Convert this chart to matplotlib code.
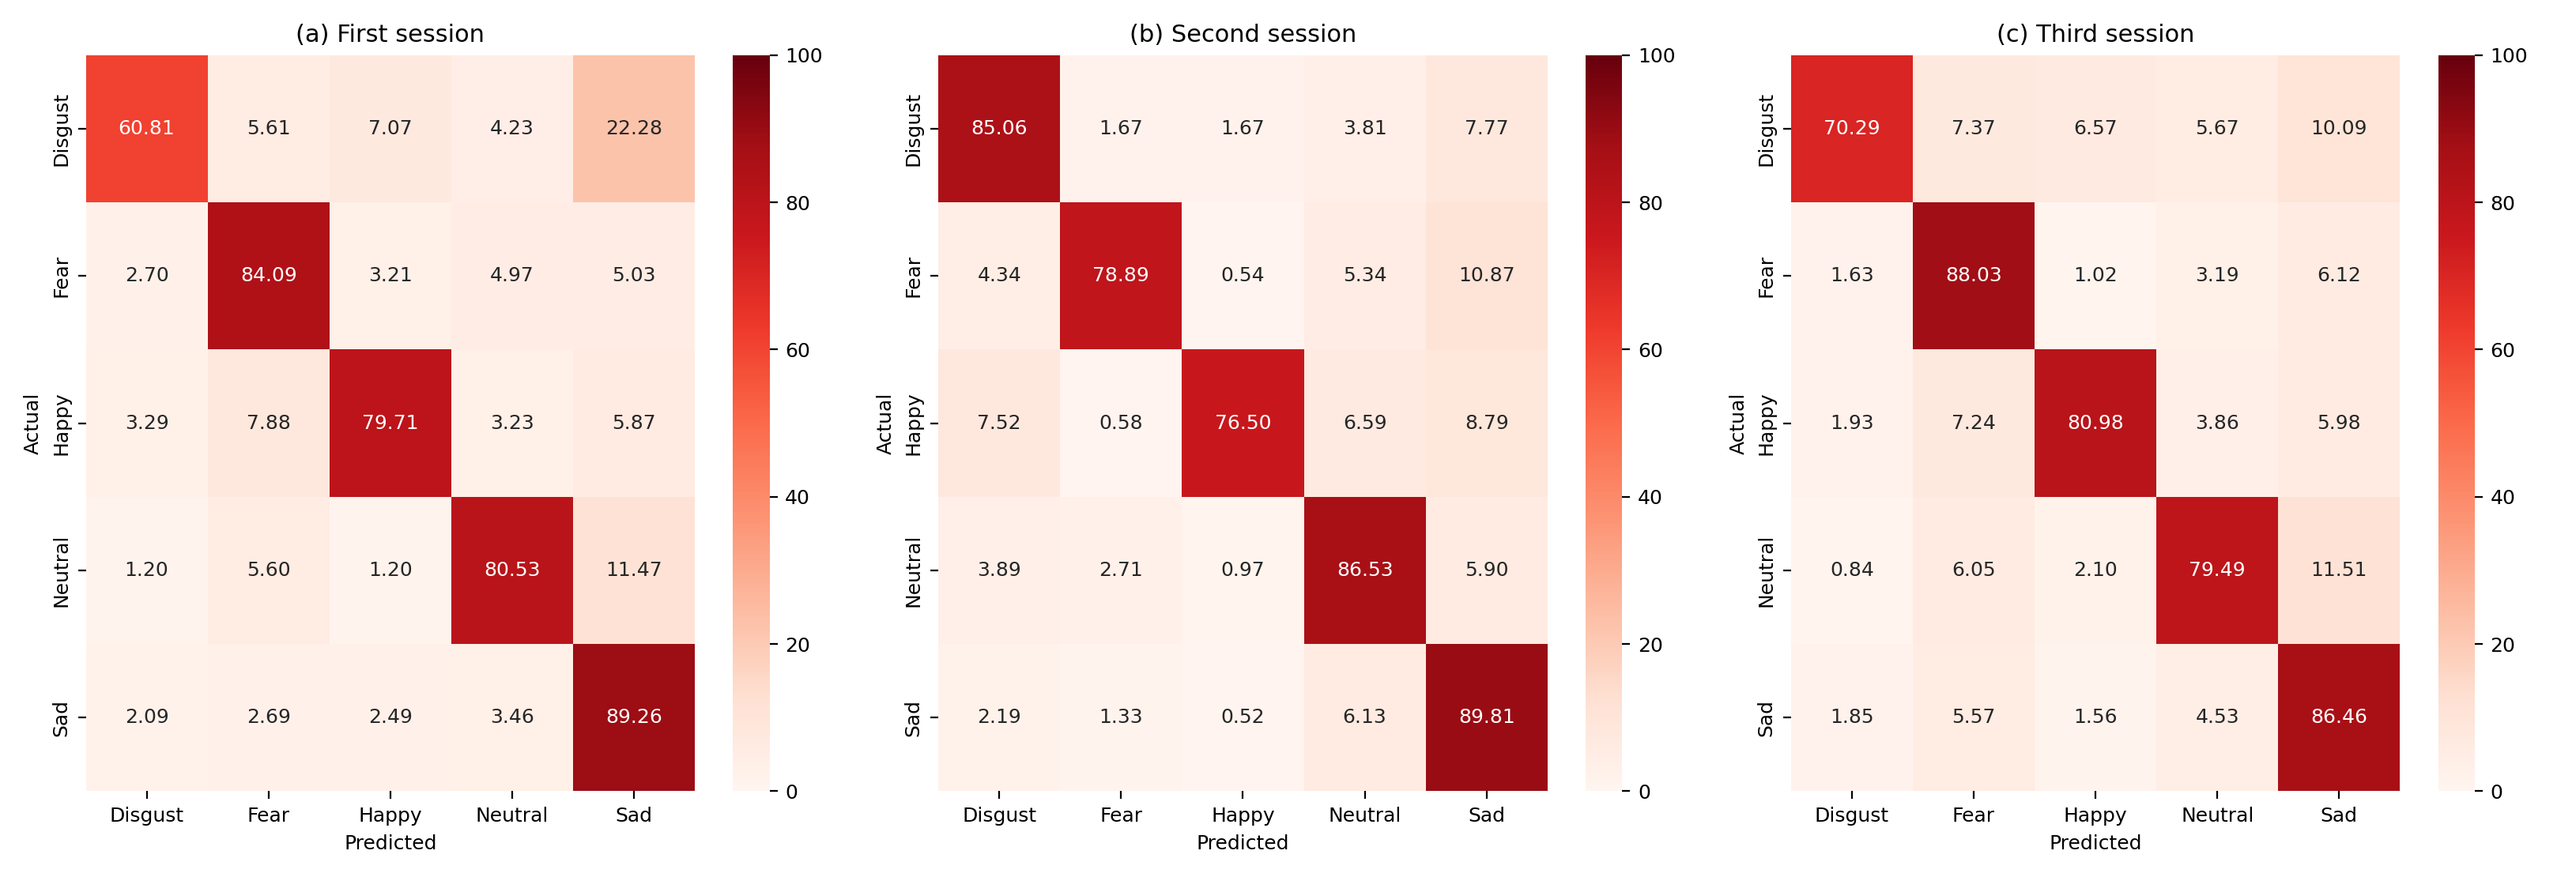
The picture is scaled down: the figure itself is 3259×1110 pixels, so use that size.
import numpy as np
import matplotlib
matplotlib.use("Agg")
import matplotlib.pyplot as plt
import seaborn as sns

labels = ["Disgust", "Fear", "Happy", "Neutral", "Sad"]
titles = ["(a) First session", "(b) Second session", "(c) Third session"]

first = [[60.81, 5.61, 7.07, 4.23, 22.28],
         [2.70, 84.09, 3.21, 4.97, 5.03],
         [3.29, 7.88, 79.71, 3.23, 5.87],
         [1.20, 5.60, 1.20, 80.53, 11.47],
         [2.09, 2.69, 2.49, 3.46, 89.26]]
second = [[85.06, 1.67, 1.67, 3.81, 7.77],
          [4.34, 78.89, 0.54, 5.34, 10.87],
          [7.52, 0.58, 76.50, 6.59, 8.79],
          [3.89, 2.71, 0.97, 86.53, 5.90],
          [2.19, 1.33, 0.52, 6.13, 89.81]]
third = [[70.29, 7.37, 6.57, 5.67, 10.09],
         [1.63, 88.03, 1.02, 3.19, 6.12],
         [1.93, 7.24, 80.98, 3.86, 5.98],
         [0.84, 6.05, 2.10, 79.49, 11.51],
         [1.85, 5.57, 1.56, 4.53, 86.46]]

fig, axes = plt.subplots(1, 3, figsize=(16.295, 5.55), dpi=200)
for ax, data, title in zip(axes, [first, second, third], titles):
    sns.heatmap(np.array(data), annot=True, fmt=".2f", cmap="Reds", vmin=0, vmax=100,
                xticklabels=labels, yticklabels=labels, ax=ax,
                annot_kws={"size": 9})
    ax.set_title(title, fontsize=11)
    ax.set_xlabel("Predicted", fontsize=9)
    ax.set_ylabel("Actual", fontsize=9)
    ax.tick_params(labelsize=9)
    ax.set_yticklabels(labels, rotation=90, va="center")
    ax.collections[0].colorbar.ax.tick_params(labelsize=9)

plt.tight_layout()
plt.subplots_adjust(wspace=0.12)
plt.savefig("out.png")
